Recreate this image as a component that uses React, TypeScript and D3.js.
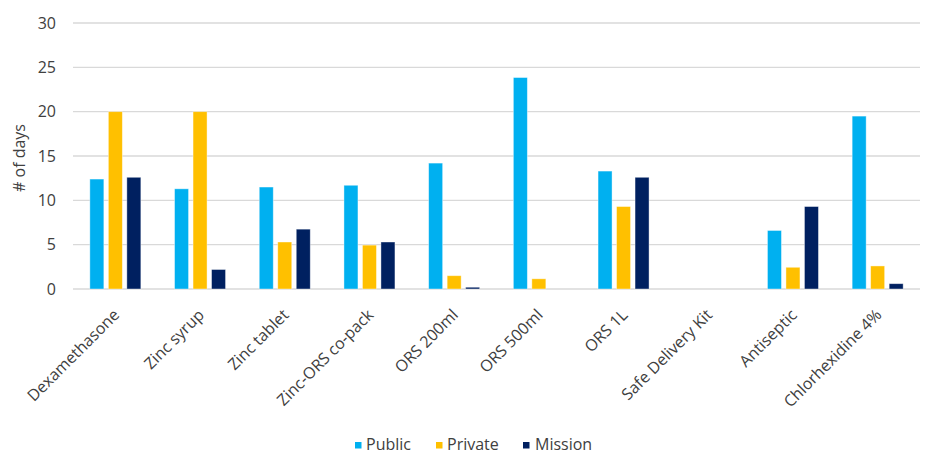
import React from "react";
import * as d3 from "d3";

const categories = [
  "Dexamethasone",
  "Zinc syrup",
  "Zinc tablet",
  "Zinc-ORS co-pack",
  "ORS 200ml",
  "ORS 500ml",
  "ORS 1L",
  "Safe Delivery Kit",
  "Antiseptic",
  "Chlorhexidine 4%",
];
const seriesNames = ["Public", "Private", "Mission"];
const publicValues = [12.4, 11.3, 11.5, 11.7, 14.2, 23.85, 13.3, 0, 6.6, 19.5];
const privateValues = [20, 20, 5.3, 4.95, 1.5, 1.15, 9.3, 0, 2.45, 2.6];
const missionValues = [12.6, 2.2, 6.75, 5.3, 0.2, 0, 12.6, 0, 9.3, 0.6];
const yTicks = [0, 5, 10, 15, 20, 25, 30];
const colors = ["#00B0F0", "#FFC000", "#002060"];

const W = 930;
const H = 454;
const margin = { left: 73, right: 10, top: 23, bottom: 166 };
const FONT = "'Open Sans', Lato, sans-serif";
const FS = 16;

export default function App() {
  const series = [publicValues, privateValues, missionValues];
  const x = d3
    .scaleBand<string>()
    .domain(categories)
    .range([margin.left, W - margin.right])
    .paddingInner(0)
    .paddingOuter(0);
  const y = d3.scaleLinear().domain([0, 30]).range([H - margin.bottom + 1, margin.top]);
  const groupW = 51;
  const inner = d3
    .scaleBand<string>()
    .domain(seriesNames)
    .range([0, groupW])
    .paddingInner(0.243);
  const groupOffset = (x.bandwidth() - groupW) / 2;

  const legendItems = [
    { name: "Public", sq: 355, tx: 366 },
    { name: "Private", sq: 436, tx: 447 },
    { name: "Mission", sq: 523, tx: 535 },
  ];

  return (
    <svg width={W} height={H} style={{ position: "absolute", left: 0, top: 0, background: "#fff" }}>
      {yTicks.map((t) => (
        <g key={t}>
          <line x1={margin.left} x2={W - margin.right} y1={y(t)} y2={y(t)} stroke="#d9d9d9" strokeWidth={1.3} />
          <text x={56} y={y(t)} dy="0.36em" textAnchor="end" fontFamily={FONT} fontSize={FS} fill="#404040">
            {t}
          </text>
        </g>
      ))}
      <text
        transform={`translate(25, ${(y(0) + y(30)) / 2 + 2}) rotate(-90)`}
        textAnchor="middle"
        fontFamily={FONT}
        fontSize={FS}
        fill="#404040"
      >
        # of days
      </text>
      {categories.map((c, i) =>
        series.map((vals, s) => {
          const v = vals[i];
          if (v <= 0) return null;
          const bx = (x(c) as number) + groupOffset + (inner(seriesNames[s]) as number);
          return (
            <rect
              key={c + s}
              x={bx}
              y={y(v)}
              width={inner.bandwidth()}
              height={y(0) - y(v)}
              fill={colors[s]}
              stroke="#ffffff"
              strokeOpacity={0.5}
              strokeWidth={0.8}
            />
          );
        })
      )}
      {categories.map((c) => {
        const cx = (x(c) as number) + x.bandwidth() / 2;
        return (
          <text
            key={c}
            transform={`translate(${cx + 5}, ${y(0) + 27}) rotate(-45)`}
            textAnchor="end"
            fontFamily={FONT}
            fontSize={FS}
            fill="#404040"
          >
            {c}
          </text>
        );
      })}
      {legendItems.map((l, i) => (
        <g key={l.name}>
          <rect x={l.sq} y={442} width={6.5} height={6.5} fill={colors[i]} />
          <text x={l.tx} y={450} fontFamily={FONT} fontSize={FS} fill="#404040">
            {l.name}
          </text>
        </g>
      ))}
    </svg>
  );
}
